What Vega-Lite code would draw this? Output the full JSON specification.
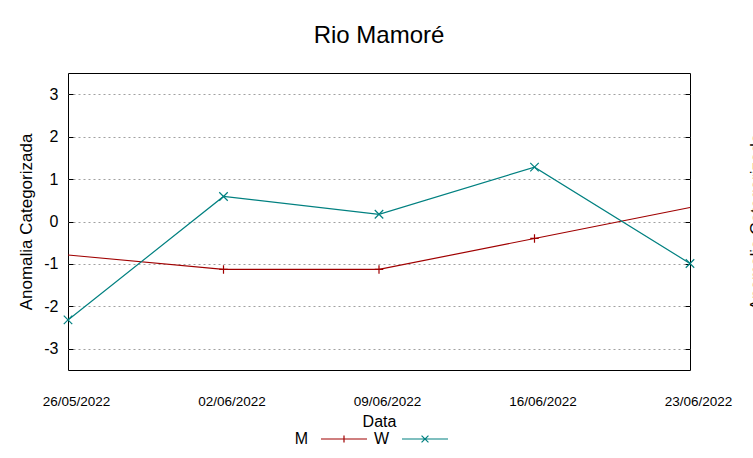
{
  "$schema": "https://vega.github.io/schema/vega-lite/v6.json",
  "width": 622,
  "height": 297,
  "autosize": {"type": "none"},
  "padding": {"left": 68, "top": 73, "right": 63, "bottom": 88},
  "background": "white",
  "title": {"text": "Rio Mamoré", "fontSize": 24, "fontWeight": "normal", "font": "Liberation Sans", "color": "black", "anchor": "middle", "frame": "group", "baseline": "alphabetic", "offset": 6},
  "config": {
    "font": "Liberation Sans",
    "view": {"stroke": "black", "strokeWidth": 1},
    "axis": {"labelColor": "black", "titleColor": "black", "domainColor": "black", "tickColor": "black", "labelFont": "Liberation Sans", "titleFont": "Liberation Sans", "titleFontWeight": "normal"}
  },
  "data": {"values": [
    {"date": "26/05/2022", "series": "M", "value": -0.79},
    {"date": "02/06/2022", "series": "M", "value": -1.13},
    {"date": "09/06/2022", "series": "M", "value": -1.13},
    {"date": "16/06/2022", "series": "M", "value": -0.40},
    {"date": "23/06/2022", "series": "M", "value": 0.33},
    {"date": "26/05/2022", "series": "W", "value": -2.32},
    {"date": "02/06/2022", "series": "W", "value": 0.59},
    {"date": "09/06/2022", "series": "W", "value": 0.17},
    {"date": "16/06/2022", "series": "W", "value": 1.28},
    {"date": "23/06/2022", "series": "W", "value": -0.99}
  ]},
  "layer": [
    {
      "mark": {"type": "line", "strokeWidth": 1.2},
      "encoding": {
        "x": {"field": "date", "type": "ordinal", "sort": null, "scale": {"type": "point", "padding": 0},
          "axis": {"labelAngle": 0, "labelFontSize": 13.5, "labelPadding": 24, "labelOffset": 8, "ticks": false, "domain": false, "title": "Data", "titleFontSize": 16, "titleY": 43, "titleBaseline": "top"}},
        "y": {"field": "value", "type": "quantitative", "scale": {"domain": [-3.5, 3.5], "nice": false, "zero": false},
          "axis": {"values": [-3, -2, -1, 0, 1, 2, 3], "labelExpr": "replace(datum.label, '−', '-')", "grid": true, "gridColor": "#a0a0a0", "gridDash": [2, 3], "gridWidth": 1, "ticks": true, "tickSize": -5, "domain": false, "labelFontSize": 16, "labelPadding": 15, "title": "Anomalia Categorizada", "titleFontSize": 17, "titleAngle": 270, "titleX": -42, "titleY": 148.5, "titleBaseline": "middle", "titleAlign": "center"}},
        "color": {"field": "series", "type": "nominal", "scale": {"domain": ["M", "W"], "range": ["#a00000", "#008080"]},
          "legend": {"orient": "none", "legendX": 252, "legendY": 342, "direction": "horizontal", "title": null, "labelFontSize": 16, "labelColor": "black", "labelAlign": "right", "labelOffset": -60, "symbolSize": 2116, "symbolStrokeWidth": 1.2, "padding": 0, "columnPadding": 3,
            "encode": {"symbols": {"update": {"shape": {"signal": "datum.value === 'M' ? 'M-1,0H1M0,-0.15V0.15' : 'M-1,0H1M-0.15,-0.15L0.15,0.15M-0.15,0.15L0.15,-0.15'"}, "fill": {"value": "transparent"}, "stroke": {"scale": "color", "field": "value"}, "strokeWidth": {"value": 1.2}}}}}}
      }
    },
    {
      "transform": [{"filter": "datum.series === 'M' && datum.date !== '26/05/2022' && datum.date !== '23/06/2022'"}],
      "mark": {"type": "point", "shape": "M-1,0H1M0,-1V1", "filled": false, "strokeWidth": 1.2, "size": 72, "opacity": 1},
      "encoding": {
        "x": {"field": "date", "type": "ordinal", "sort": null},
        "y": {"field": "value", "type": "quantitative", "scale": {"domain": [-3.5, 3.5], "nice": false, "zero": false}, "axis": null},
        "color": {"field": "series", "type": "nominal"}
      }
    },
    {
      "transform": [{"filter": "datum.series === 'W'"}],
      "mark": {"type": "point", "shape": "M-1,-1L1,1M-1,1L1,-1", "filled": false, "strokeWidth": 1.2, "size": 72, "opacity": 1},
      "encoding": {
        "x": {"field": "date", "type": "ordinal", "sort": null},
        "y": {"field": "value", "type": "quantitative", "scale": {"domain": [-3.5, 3.5], "nice": false, "zero": false},
          "axis": {"orient": "right", "values": [-3, -2, -1, 0, 1, 2, 3], "labels": false, "grid": false, "ticks": true, "tickSize": -5, "domain": false, "title": "Anomalia Categorizada", "titleFontSize": 17, "titleAngle": 270, "titleX": 58, "titleY": 148.5, "titleBaseline": "top", "titleAlign": "center"}},
        "color": {"field": "series", "type": "nominal"}
      }
    }
  ],
  "resolve": {"scale": {"y": "independent"}}
}
